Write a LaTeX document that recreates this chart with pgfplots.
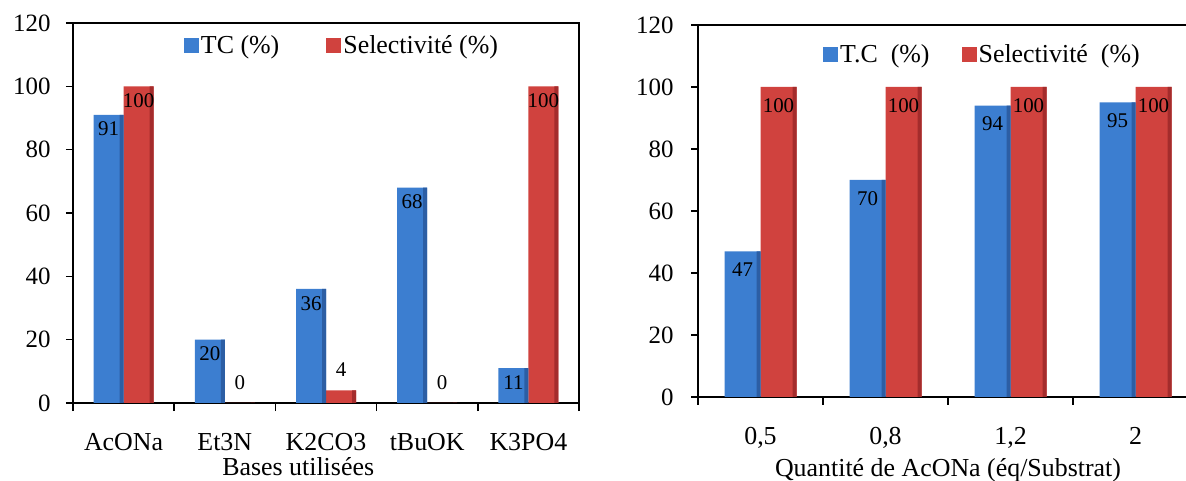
\documentclass[border=0pt]{standalone}
\usepackage{fontspec}
\setmainfont{Liberation Serif}
\usepackage{pgfplots}
\pgfplotsset{compat=1.18}
\definecolor{blueM}{RGB}{60,126,208}
\definecolor{blueD}{RGB}{44,94,164}
\definecolor{redM}{RGB}{208,66,62}
\definecolor{redD}{RGB}{164,44,44}
\pgfplotsset{
  common/.style={
    scale only axis,
    ymin=0, ymax=120, ytick={0,20,...,120},
    tick align=outside, tick pos=left,
    major tick length=7bp, minor tick length=8bp,
    axis line style={line width=1.6bp},
    every tick/.style={black, line width=1.6bp},
    major x tick style={draw=none},
    ybar=0pt,
    /pgf/number format/assume math mode=true,
    xticklabel style={font=\fontsize{26}{30}\selectfont, anchor=base, yshift=-40bp},
    legend columns=2,
    legend cell align=left,
    legend image code/.code={\fill[##1] (0bp,-7.5bp) rectangle (15bp,7.5bp);},
    visualization depends on={y \as \rawy},
    every node near coord/.append style={font=\fontsize{21}{24}\selectfont, anchor=north, inner sep=2bp, black},
  },
  lab/.style={forget plot, draw=none, fill=none, nodes near coords},
  strip/.style={forget plot, draw=none, fill=#1},
}
\begin{document}
\begin{tikzpicture}
\path[use as bounding box, clip] (0bp,0bp) rectangle (1186bp,481bp);
% left panel
\begin{axis}[common,
  at={(73bp,78bp)}, anchor=south west,
  width=506bp, height=380bp,
  xmin=-0.5, xmax=4.5,
  xtick={0,1,2,3,4},
  xticklabels={AcONa,Et3N,K2CO3,tBuOK,K3PO4},
  minor xtick={-0.5,0.5,1.5,2.5,3.5,4.5},
  yticklabel style={font=\fontsize{25}{30}\selectfont, xshift=-12bp},
  every node near coord/.append style={yshift={ifthenelse(\rawy<5,30,-5)}},
  xlabel={Bases utilisées},
  xlabel style={at={(axis description cs:0.445,0)}, anchor=base, yshift=-72bp, font=\fontsize{26}{30}\selectfont},
  legend style={draw=none, fill=none, at={(0.213,0.942)}, anchor=west, font=\fontsize{26}{30}\selectfont,
    /tikz/every even column/.append style={column sep=45bp}},
]
\addplot[draw=none, fill=blueM, bar width=30bp, bar shift=-15bp] coordinates {(0,91) (1,20) (2,36) (3,68) (4,11)};
\addlegendentry{TC (\%)}
\addplot[draw=none, fill=redM, bar width=30bp, bar shift=15bp] coordinates {(0,100) (1,0) (2,4) (3,0) (4,100)};
\addlegendentry{Selectivité (\%)}
\addplot[strip=blueD, bar width=4bp, bar shift=-2bp] coordinates {(0,91) (1,20) (2,36) (3,68) (4,11)};
\addplot[strip=redD, bar width=4bp, bar shift=28bp] coordinates {(0,100) (1,0) (2,4) (3,0) (4,100)};
\addplot[lab, bar width=30bp, bar shift=-15bp] coordinates {(0,91) (1,20) (2,36) (3,68) (4,11)};
\addplot[lab, bar width=30bp, bar shift=15bp] coordinates {(0,100) (1,0) (2,4) (3,0) (4,100)};
\end{axis}
% right panel
\begin{axis}[common,
  at={(698bp,84bp)}, anchor=south west,
  width=500bp, height=372bp,
  xmin=-0.5, xmax=3.5,
  xtick={0,1,2,3},
  xticklabels={{0,5},{0,8},{1,2},{2}},
  minor xtick={-0.5,0.5,1.5,2.5,3.5},
  yticklabel style={font=\fontsize{25}{30}\selectfont, xshift=-14bp},
  every node near coord/.append style={yshift=-9bp},
  xlabel={Quantité de AcONa (éq/Substrat)},
  xlabel style={at={(axis description cs:0.5,0)}, anchor=base, yshift=-79bp, font=\fontsize{26}{30}\selectfont},
  legend style={draw=none, fill=none, at={(0.244,0.922)}, anchor=west, font=\fontsize{26}{30}\selectfont,
    /tikz/every even column/.append style={column sep=30bp}},
]
\addplot[draw=none, fill=blueM, bar width=36bp, bar shift=-18bp] coordinates {(0,47) (1,70) (2,94) (3,95)};
\addlegendentry{T.C\ \ (\%)}
\addplot[draw=none, fill=redM, bar width=36bp, bar shift=18bp] coordinates {(0,100) (1,100) (2,100) (3,100)};
\addlegendentry{Selectivité\ \ (\%)}
\addplot[strip=blueD, bar width=4bp, bar shift=-2bp] coordinates {(0,47) (1,70) (2,94) (3,95)};
\addplot[strip=redD, bar width=4bp, bar shift=34bp] coordinates {(0,100) (1,100) (2,100) (3,100)};
\addplot[lab, bar width=36bp, bar shift=-18bp] coordinates {(0,47) (1,70) (2,94) (3,95)};
\addplot[lab, bar width=36bp, bar shift=18bp] coordinates {(0,100) (1,100) (2,100) (3,100)};
\end{axis}
\end{tikzpicture}
\end{document}
